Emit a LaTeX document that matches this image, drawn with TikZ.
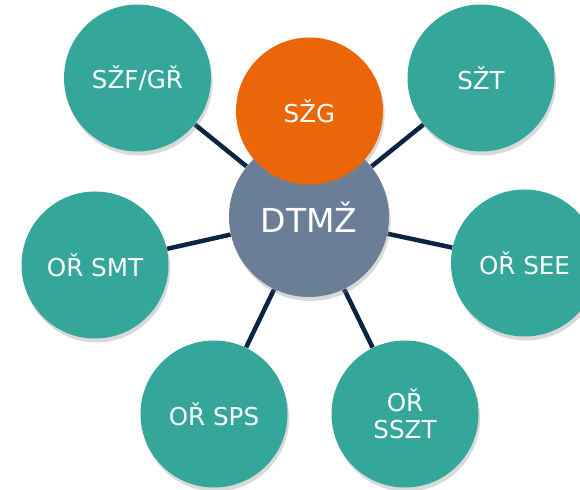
\documentclass[tikz,border=0pt]{standalone}
\usepackage{fontspec}
\setmainfont{DejaVu Sans}
\usetikzlibrary{shadows, backgrounds}

\definecolor{unitteal}{HTML}{35A69A}
\definecolor{unitorange}{HTML}{EB6608}
\definecolor{hubgray}{HTML}{6A7E98}
\definecolor{linknavy}{HTML}{0C2444}

\begin{document}
\begin{tikzpicture}[x=0.5pt, y=-0.5pt,
        unit/.style={
            % The shape:
            circle,
            % The size:
            minimum size=73.5pt,
            inner sep=0pt,
            % The filling
            fill=unitteal,
            drop shadow={opacity=.3, shadow xshift=.8pt, shadow yshift=-2pt},
            % Font
            text=white,
            align=center,
            font=\fontsize{12.3}{13.5}\selectfont
        },
        link/.style={line width=2.25pt, draw=linknavy}]

        \useasboundingbox (0,0) rectangle (580,490);

        \node [unit, fill=hubgray, minimum size=80pt, font=\fontsize{16.5}{18}\selectfont] (dtmz) at (309,217) {DTMŽ};
        \node [unit, fill=unitorange] (szg) at (309.5,111) {SŽG};

        \foreach \x/\y/\name/\utext in {137.5/78/szf/{SŽF/GŘ}, 481/78/szt/SŽT, 95/265/smt/OŘ SMT,
            524.5/263/see/OŘ SEE, 214/414/sps/OŘ SPS, 405/414/sszt/{OŘ\\SSZT}}
        {
            \node [unit] (\name) at (\x,\y) {\utext};
            \begin{pgfonlayer}{background}
                \draw [link] (dtmz) -- (\name);
            \end{pgfonlayer}
        }

    \end{tikzpicture}
\end{document}
